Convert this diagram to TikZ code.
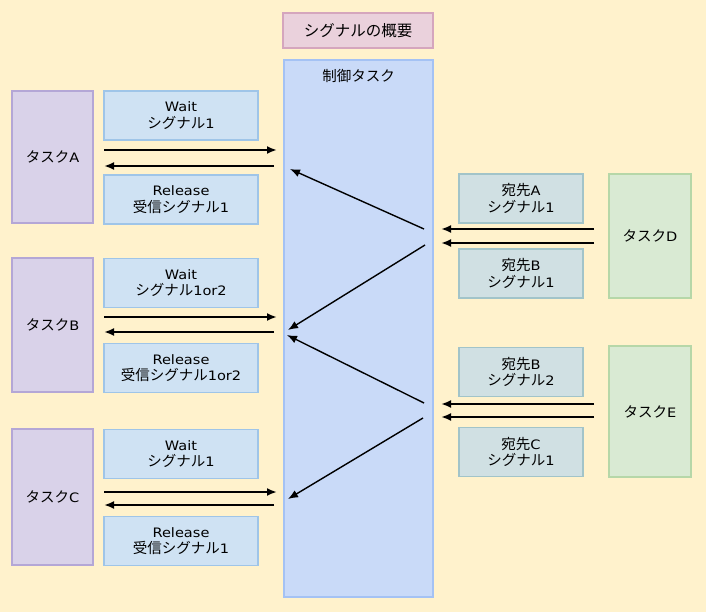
\documentclass[tikz,border=0pt]{standalone}
\usepackage{fontspec}
\setmainfont{Noto Sans CJK JP}
\newfontfamily\latfam[FakeStretch=1.12]{DejaVu Sans}
\newcommand\latn[1]{{\latfam\fontsize{13}{17}\selectfont #1}}
\usetikzlibrary{arrows.meta}
\definecolor{bg}{HTML}{FFF2CC}
\definecolor{titlefill}{HTML}{EAD1DC}
\definecolor{titledraw}{HTML}{D5A6BD}
\definecolor{ctrlfill}{HTML}{C9DAF8}
\definecolor{ctrldraw}{HTML}{A4C2F4}
\definecolor{taskfill}{HTML}{D9D2E9}
\definecolor{taskdraw}{HTML}{B4A7D6}
\definecolor{sigfill}{HTML}{CFE2F3}
\definecolor{sigdraw}{HTML}{9FC5E8}
\definecolor{dstfill}{HTML}{D0E0E3}
\definecolor{dstdraw}{HTML}{A2C4C9}
\definecolor{grnfill}{HTML}{D9EAD3}
\definecolor{grndraw}{HTML}{B6D7A8}
\tikzset{
  box/.style={rectangle, line width=1.5pt, inner sep=0pt, align=center, font=\fontsize{14.5}{16.5}\selectfont},
  titlebox/.style={box, fill=titlefill, draw=titledraw, minimum width=150pt, minimum height=35pt, font=\fontsize{15.5}{17}\selectfont},
  ctrlbox/.style={box, fill=ctrlfill, draw=ctrldraw, minimum width=149pt, minimum height=537pt},
  taskbox/.style={box, fill=taskfill, draw=taskdraw, minimum width=81pt},
  sigbox/.style={box, fill=sigfill, draw=sigdraw, minimum width=154pt, minimum height=49pt},
  dstbox/.style={box, fill=dstfill, draw=dstdraw, minimum width=124pt, minimum height=49pt},
  grnbox/.style={box, fill=grnfill, draw=grndraw, minimum width=82pt},
  harrow/.style={line width=2pt, -{Latex[length=10pt,width=8pt]}},
  darrow/.style={line width=1.4pt, -{Latex[length=10pt,width=8pt]}},
  lbl/.style={font=\fontsize{14.5}{16.5}\selectfont, inner sep=0pt}
}
\begin{document}
\begin{tikzpicture}[x=1pt,y=-1pt]
\fill[bg] (0,0) rectangle (706,612);
\useasboundingbox (0,0) rectangle (706,612);

\node[titlebox] (title) at (358,30.5) {シグナルの概要};
\node[ctrlbox] (ctrl) at (358.5,328.5) {};
\node[lbl] (ctrllbl) at (358.5,76) {制御タスク};

\node[taskbox, minimum height=132pt] (ta) at (52.5,157) {タスク\latn{A}};
\node[taskbox, minimum height=134pt] (tb) at (52.5,325) {タスク\latn{B}};
\node[taskbox, minimum height=136pt] (tc) at (52.5,497) {タスク\latn{C}};

\node[sigbox] (wa) at (181,115.5) {\latn{Wait}\\シグナル\latn{1}};
\node[sigbox] (ra) at (181,199.5) {\latn{Release}\\受信シグナル\latn{1}};
\node[sigbox] (wb) at (181,283) {\latn{Wait}\\シグナル\latn{1or2}};
\node[sigbox] (rb) at (181,368) {\latn{Release}\\受信シグナル\latn{1or2}};
\node[sigbox] (wc) at (181,454) {\latn{Wait}\\シグナル\latn{1}};
\node[sigbox] (rc) at (181,541) {\latn{Release}\\受信シグナル\latn{1}};

\node[dstbox] (da) at (521,198.5) {宛先\latn{A}\\シグナル\latn{1}};
\node[dstbox] (db1) at (521,273.5) {宛先\latn{B}\\シグナル\latn{1}};
\node[dstbox] (db2) at (521,372) {宛先\latn{B}\\シグナル\latn{2}};
\node[dstbox] (dc) at (521,452) {宛先\latn{C}\\シグナル\latn{1}};

\node[grnbox, minimum height=124pt] (td) at (650,236) {タスク\latn{D}};
\node[grnbox, minimum height=131pt] (te) at (650,411.5) {タスク\latn{E}};

% coordinates for free arrow ends
\coordinate (a1s) at (104,150); \coordinate (a1e) at (277,150);
\coordinate (a2s) at (274,166); \coordinate (a2e) at (104,166);
\coordinate (b1s) at (104,317); \coordinate (b1e) at (277,317);
\coordinate (b2s) at (274,332); \coordinate (b2e) at (104,332);
\coordinate (c1s) at (104,492); \coordinate (c1e) at (277,492);
\coordinate (c2s) at (274,505); \coordinate (c2e) at (104,505);
\coordinate (d1s) at (594,229); \coordinate (d1e) at (441,229);
\coordinate (d2s) at (594,243); \coordinate (d2e) at (441,243);
\coordinate (e1s) at (594,404); \coordinate (e1e) at (441,404);
\coordinate (e2s) at (594,417); \coordinate (e2e) at (441,417);
\coordinate (x1s) at (424,229); \coordinate (x1e) at (290,169);
\coordinate (x2s) at (425,245); \coordinate (x2e) at (288,330);
\coordinate (x3s) at (424,403); \coordinate (x3e) at (287,335);
\coordinate (x4s) at (423,418); \coordinate (x4e) at (288,499);

\draw[harrow] (a1s) -- (a1e);
\draw[harrow] (a2s) -- (a2e);
\draw[harrow] (b1s) -- (b1e);
\draw[harrow] (b2s) -- (b2e);
\draw[harrow] (c1s) -- (c1e);
\draw[harrow] (c2s) -- (c2e);
\draw[harrow] (d1s) -- (d1e);
\draw[harrow] (d2s) -- (d2e);
\draw[harrow] (e1s) -- (e1e);
\draw[harrow] (e2s) -- (e2e);
\draw[darrow] (x1s) -- (x1e);
\draw[darrow] (x2s) -- (x2e);
\draw[darrow] (x3s) -- (x3e);
\draw[darrow] (x4s) -- (x4e);
\end{tikzpicture}
\end{document}
